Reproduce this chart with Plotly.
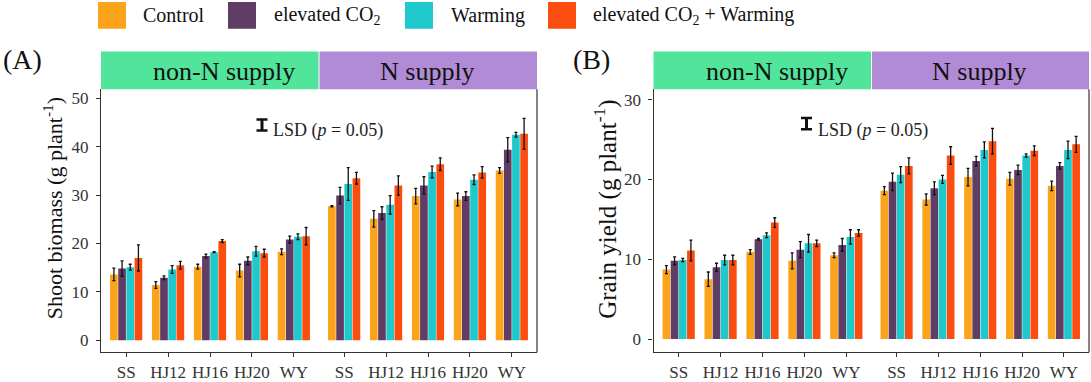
import plotly.graph_objects as go

W, H = 1091, 382

cultivars = ["SS", "HJ12", "HJ16", "HJ20", "WY"]
treatments = ["Control", "elevated CO<sub>2</sub>", "Warming", "elevated CO<sub>2</sub> + Warming"]
colors = ["#FBA31A", "#5F3D64", "#1FC9CB", "#FB4D0F"]
facets = ["non-N supply", "N supply"]
strip_colors = ["#50E59A", "#B28BD6"]

# Shoot biomass (g plant-1), rows = treatments, cols = cultivars
shoot_nonN = [[13.6, 11.4, 15.2, 14.4, 18.3],
              [14.8, 12.9, 17.4, 16.4, 20.8],
              [15.1, 14.6, 18.2, 18.4, 21.4],
              [17.0, 15.5, 20.5, 18.0, 21.5]]
shoot_nonN_err = [[1.3, 0.7, 0.5, 1.3, 0.6],
                  [1.6, 0.4, 0.4, 0.8, 0.7],
                  [0.6, 0.8, 0.1, 1.0, 0.6],
                  [2.7, 0.8, 0.3, 0.8, 1.8]]
shoot_N = [[27.7, 25.1, 29.8, 29.1, 35.1],
           [29.9, 26.3, 32.0, 29.8, 39.4],
           [32.3, 28.0, 34.8, 33.2, 42.5],
           [33.5, 32.0, 36.4, 34.7, 42.7]]
shoot_N_err = [[0.1, 1.7, 1.6, 1.3, 0.6],
               [1.7, 1.3, 1.8, 0.9, 2.5],
               [3.4, 1.9, 1.2, 1.0, 0.5],
               [1.2, 2.0, 1.3, 1.2, 3.2]]

# Grain yield (g plant-1)
grain_nonN = [[8.7, 7.5, 10.9, 9.8, 10.5],
              [9.8, 9.0, 12.5, 11.2, 11.8],
              [9.9, 9.9, 13.0, 12.0, 12.8],
              [11.1, 9.9, 14.6, 12.0, 13.3]]
grain_nonN_err = [[0.5, 0.9, 0.3, 1.0, 0.3],
                  [0.5, 0.5, 0.1, 1.0, 0.8],
                  [0.2, 0.6, 0.3, 1.1, 0.9],
                  [1.3, 0.6, 0.6, 0.4, 0.4]]
grain_N = [[18.6, 17.5, 20.3, 20.1, 19.2],
           [19.7, 18.9, 22.3, 21.2, 21.7],
           [20.6, 20.0, 23.7, 23.0, 23.7],
           [21.7, 23.0, 24.8, 23.6, 24.4]]
grain_N_err = [[0.5, 0.7, 1.1, 0.8, 0.6],
               [1.1, 0.8, 0.6, 0.6, 0.4],
               [1.0, 0.5, 1.0, 0.2, 1.1],
               [1.0, 1.1, 1.6, 0.6, 1.0]]

lsd_values = [2.3, 1.4]
lsd_centers = [44.5, 27.0]
y_ticks = [[0, 10, 20, 30, 40, 50], [0, 10, 20, 30]]
y_titles = ["Shoot biomass (g plant<sup>-1</sup>)", "Grain yield (g plant<sup>-1</sup>)"]
panel_labels = ["(A)", "(B)"]

FONT = "Liberation Serif, Times New Roman, serif"


def px(x):
    return x / W


def py(y):
    return 1 - y / H


fig = go.Figure()

# panel geometry (pixels)
panels = [
    dict(left=101, mid=319, right=537, yaxis="y", yr=[-2.5, 51.9], title_size=22, title_y=210,
         xaxes=["x", "x2"], data=[(shoot_nonN, shoot_nonN_err), (shoot_N, shoot_N_err)]),
    dict(left=653.5, mid=871.5, right=1089, yaxis="y2", yr=[-1.65, 31.3], title_size=25, title_y=211,
         xaxes=["x3", "x4"], data=[(grain_nonN, grain_nonN_err), (grain_N, grain_N_err)]),
]
top_px, bottom_px = 90, 355
strip_top = 52

layout_axes = {}
shapes = []
annotations = []

for pi, p in enumerate(panels):
    for fi in range(2):
        xa = p["xaxes"][fi]
        means, errs = p["data"][fi]
        for ti in range(4):
            fig.add_trace(go.Bar(
                x=cultivars, y=means[ti], name=treatments[ti],
                marker=dict(color=colors[ti], line=dict(width=0)),
                error_y=dict(type="data", array=errs[ti], color="#111111",
                             thickness=1.3, width=1.5),
                xaxis=xa, yaxis=p["yaxis"], offsetgroup=str(ti),
                showlegend=False,
            ))
        d0 = p["left"] if fi == 0 else p["mid"]
        d1 = p["mid"] if fi == 0 else p["right"]
        key = "xaxis" if xa == "x" else "xaxis" + xa[1:]
        layout_axes[key] = dict(
            domain=[px(d0), px(d1)], anchor=p["yaxis"], type="category",
            categoryorder="array", categoryarray=cultivars,
            range=[-0.6, 4.6], showline=True, linecolor="#333333", linewidth=1.2,
            ticks="outside", ticklen=4, tickcolor="#333333", tickwidth=1,
            showgrid=False, zeroline=False,
            tickfont=dict(family=FONT, size=17, color="#333333"),
        )
        # strips
        shapes.append(dict(type="rect", xref="paper", yref="paper",
                           x0=px(d0 + (0.5 if fi == 1 else 0)), x1=px(d1 - (0.5 if fi == 0 else 0)),
                           y0=py(top_px), y1=py(strip_top),
                           fillcolor=strip_colors[fi], line=dict(width=0), layer="below"))
        shift = 14 if fi == 0 else -1
        annotations.append(dict(x=px((d0 + d1) / 2 + shift), y=py((top_px + strip_top) / 2 + 1),
                                xref="paper", yref="paper", text=facets[fi], showarrow=False,
                                xanchor="center", yanchor="middle",
                                font=dict(family=FONT, size=26, color="#111111")))
    ykey = "yaxis" if p["yaxis"] == "y" else "yaxis2"
    layout_axes[ykey] = dict(
        domain=[py(bottom_px), py(top_px)], anchor=p["xaxes"][0], range=p["yr"],
        tickvals=y_ticks[pi], showline=True, linecolor="#333333", linewidth=1.2,
        ticks="outside", ticklen=4, tickcolor="#333333", tickwidth=1,
        showgrid=False, zeroline=False, ticklabelstandoff=4,
        tickfont=dict(family=FONT, size=17, color="#333333"),
    )
    # right border
    shapes.append(dict(type="line", xref="paper", yref="paper",
                       x0=px(p["right"]), x1=px(p["right"]), y0=py(bottom_px), y1=py(top_px),
                       line=dict(color="#333333", width=1.2)))
    # y title
    annotations.append(dict(x=px(p["left"] - 48), y=py(p["title_y"]), xref="paper", yref="paper",
                            text=y_titles[pi], textangle=-90, showarrow=False,
                            xanchor="center", yanchor="middle",
                            font=dict(family=FONT, size=p["title_size"], color="#111111")))
    # panel label
    annotations.append(dict(x=px(p["left"] - 100 + (0 if pi == 0 else 17)), y=py(60),
                            xref="paper", yref="paper", text=panel_labels[pi], showarrow=False,
                            xanchor="left", yanchor="middle",
                            font=dict(family=FONT, size=28, color="#111111")))
    # LSD glyph
    lx = 262 if pi == 0 else 806.5
    yr_ = p["yaxis"]
    lo = lsd_centers[pi] - lsd_values[pi] / 2
    hi = lsd_centers[pi] + lsd_values[pi] / 2
    shapes.append(dict(type="line", xref="paper", yref=yr_, x0=px(lx), x1=px(lx), y0=lo, y1=hi,
                       line=dict(color="#111111", width=3)))
    for yy in (lo, hi):
        shapes.append(dict(type="line", xref="paper", yref=yr_, x0=px(lx - 5.5), x1=px(lx + 5.5),
                           y0=yy, y1=yy, line=dict(color="#111111", width=2.5)))
    annotations.append(dict(x=px(lx + 9), y=py(132), xref="paper", yref="paper",
                            text="LSD (<i>p</i> = 0.05)", showarrow=False,
                            xanchor="left", yanchor="middle",
                            font=dict(family=FONT, size=18, color="#222222")))

# manual legend
leg_sq = [98, 228, 405, 548]
leg_tx = [141, 271.5, 448.5, 590.5]
for i in range(4):
    shapes.append(dict(type="rect", xref="paper", yref="paper",
                       x0=px(leg_sq[i]), x1=px(leg_sq[i] + 28), y0=py(29), y1=py(2),
                       fillcolor=colors[i], line=dict(width=0)))
    annotations.append(dict(x=px(leg_tx[i]), y=py(15.5), xref="paper", yref="paper",
                            text=treatments[i], showarrow=False, xanchor="left", yanchor="middle",
                            font=dict(family=FONT, size=20, color="#111111")))

fig.update_layout(
    width=W, height=H, margin=dict(l=0, r=0, t=0, b=0),
    paper_bgcolor="white", plot_bgcolor="white",
    barmode="group", bargap=0.22, bargroupgap=0.06,
    showlegend=False, shapes=shapes, annotations=annotations,
    **layout_axes,
)

fig.write_html("out.html", config={"displayModeBar": False},
               post_script="document.body.style.margin='0';document.body.style.overflow='hidden';")
